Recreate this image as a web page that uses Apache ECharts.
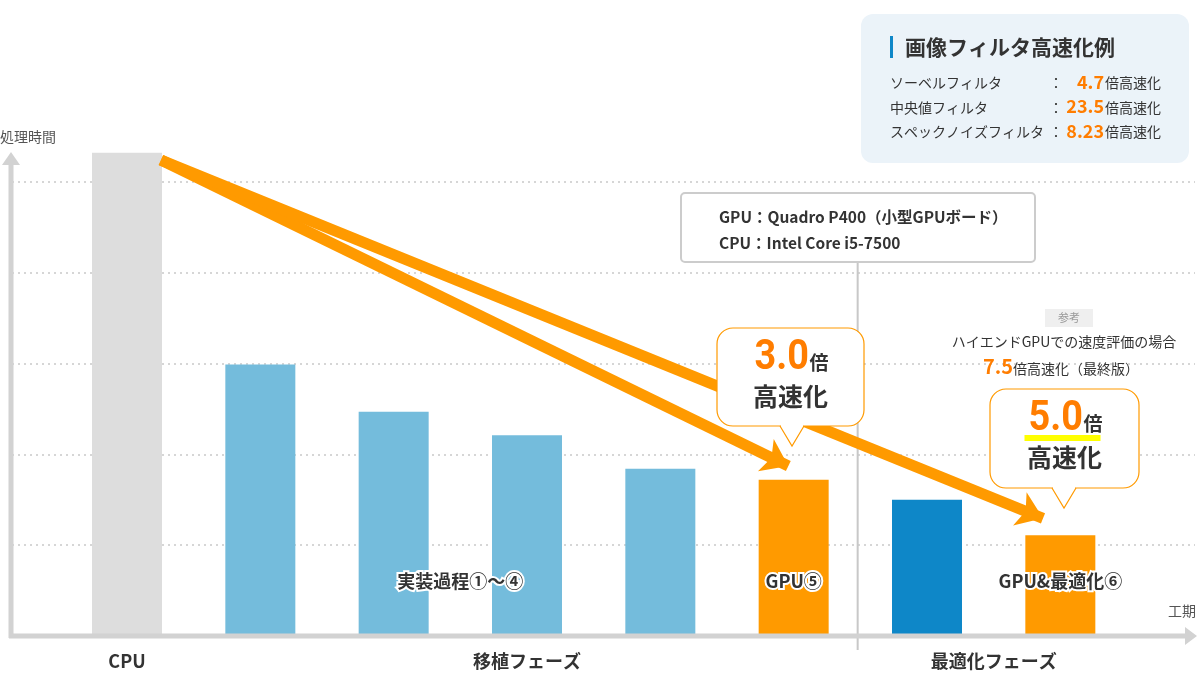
<!DOCTYPE html>
<html>
<head>
<meta charset="utf-8">
<script src="https://cdn.jsdelivr.net/npm/echarts@6/dist/echarts.min.js"></script>
<style>
  html, body { margin: 0; padding: 0; background: #fff; }
  #chart { width: 1200px; height: 694px; }
</style>
</head>
<body>
<div id="chart"></div>
<script>
// data
const categories = ['CPU', '実装過程①', '実装過程②', '実装過程③', '実装過程④', 'GPU⑤', '最適化', 'GPU&最適化⑥']
const times = [5.32, 2.99, 2.47, 2.21, 1.84, 1.72, 1.50, 1.11]
const phases = ['CPU', '移植フェーズ', '最適化フェーズ']
const filterNames = ['ソーベルフィルタ', '中央値フィルタ', 'スペックノイズフィルタ']
const filterSpeedups = ['4.7', '23.5', '8.23']
const gpuSpeedup = '3.0'
const optSpeedup = '5.0'
const highEndSpeedup = '7.5'
const specLines = ['GPU：Quadro P400（小型GPUボード）', 'CPU：Intel Core i5-7500']

// styles
const FONT = '"Noto Sans CJK JP", "Noto Sans", sans-serif'
const ORANGE = '#ff9a00'
const NUM_ORANGE = '#ff7d00'
const barColors = ['#dddddd', '#74bcdc', '#74bcdc', '#74bcdc', '#74bcdc', ORANGE, '#0e87c8', ORANGE]
const AXIS_GRAY = '#d2d2d2'

const chart = echarts.init(document.getElementById('chart'))

chart.setOption({
  animation: false,
  grid: { left: 12, right: 5, top: 91, bottom: 58 },
  xAxis: {
    type: 'value',
    min: -0.8625,
    max: 8.01,
    show: false
  },
  yAxis: {
    type: 'value',
    min: 0,
    max: 6,
    interval: 1,
    axisLine: { show: false },
    axisTick: { show: false },
    axisLabel: { show: false },
    splitLine: { showMinLine: false, showMaxLine: false, lineStyle: { color: '#d6d6d6', width: 2, type: [2, 4] } }
  },
  series: [
    {
      type: 'bar',
      barWidth: 70,
      data: times.map((v, i) => ({ value: [i, v], itemStyle: { color: barColors[i] } })),
      markLine: {
        silent: true,
        symbol: ['none', 'arrow'],
        symbolSize: [27, 25],
        label: { show: false },
        lineStyle: { color: ORANGE, width: 11, type: 'solid' },
        emphasis: { disabled: true },
        data: [
          [{ coord: [0.255, 5.24] }, { coord: [4.96, 1.871] }],
          [{ coord: [0.255, 5.24] }, { coord: [6.87, 1.296] }]
        ]
      }
    }
  ]
})

const px = (x, y) => chart.convertToPixel({ gridIndex: 0 }, [x, y])

const base = px(0, 0)[1]
const g = []

// axes with arrows
g.push({ type: 'line', z: 5, shape: { x1: 11, y1: 160, x2: 11, y2: base + 2 }, style: { stroke: AXIS_GRAY, lineWidth: 5 } })
g.push({ type: 'polygon', z: 5, shape: { points: [[11, 152], [20, 165], [2, 165]] }, style: { fill: AXIS_GRAY } })
g.push({ type: 'line', z: 5, shape: { x1: 9, y1: base, x2: 1188, y2: base }, style: { stroke: AXIS_GRAY, lineWidth: 5 } })
g.push({ type: 'polygon', z: 5, shape: { points: [[1197, base], [1185, base - 9], [1185, base + 9]] }, style: { fill: AXIS_GRAY } })
g.push({ type: 'text', z: 5, x: 0, y: 137, style: { text: '処理時間', font: '14px ' + FONT, fill: '#555', verticalAlign: 'middle' } })
g.push({ type: 'text', z: 5, x: 1196, y: 611, style: { text: '工期', font: '14px ' + FONT, fill: '#555', align: 'right', verticalAlign: 'middle' } })

// phase separator
const sepX = px(5.48, 0)[0]
g.push({ type: 'line', z: 4, shape: { x1: sepX, y1: 262, x2: sepX, y2: 650 }, style: { stroke: '#c8c8c8', lineWidth: 2 } })

// phase labels
const phaseIdx = [0, 3, 6.5]
phases.forEach((p, i) => {
  g.push({ type: 'text', z: 5, x: px(phaseIdx[i], 0)[0], y: 661,
    style: { text: p, font: 'bold 18px ' + FONT, fill: '#333', align: 'center', verticalAlign: 'middle' } })
})

// bar group labels
const groupLabels = [['実装過程①〜④', 2.5], ['GPU⑤', 5], ['GPU&最適化⑥', 7]]
groupLabels.forEach(([t, i]) => {
  const p = px(i, 0.6)
  g.push({ type: 'text', z: 6, x: p[0], y: p[1],
    style: { text: t, font: 'bold 18px ' + FONT, fill: '#333', stroke: '#fff', lineWidth: 4, align: 'center', verticalAlign: 'middle' } })
})

// speedup bubbles
function bubble(x, y, w, h, tx, ty, num, mark) {
  const yb = y + h
  g.push({ type: 'rect', z: 20, shape: { x, y, width: w, height: h, r: 16 },
    style: { fill: '#fff', stroke: ORANGE, lineWidth: 1.2 } })
  g.push({ type: 'polygon', z: 21, shape: { points: [[tx - 11, yb - 1], [tx + 11, yb - 1], [tx + 11, yb + 1], [tx, ty - 1], [tx - 11, yb + 1]] },
    style: { fill: '#fff' } })
  g.push({ type: 'polyline', z: 21, shape: { points: [[tx - 12, yb], [tx, ty], [tx + 12, yb]] },
    style: { stroke: ORANGE, lineWidth: 1.2, fill: null } })
  const cx = x + w / 2
  if (mark) {
    g.push({ type: 'rect', z: 21, shape: { x: cx - 40, y: y + 46, width: 76, height: 6 }, style: { fill: '#ffff00' } })
  }
  g.push({ type: 'text', z: 22, x: cx - 36, y: y + 30, scaleX: 0.9,
    style: { text: num, font: 'bold 42px Roboto, ' + FONT, fill: NUM_ORANGE, verticalAlign: 'middle' } })
  g.push({ type: 'text', z: 22, x: cx + 19, y: y + 35,
    style: { text: '倍', font: 'bold 19px ' + FONT, fill: '#333', verticalAlign: 'middle' } })
  g.push({ type: 'text', z: 22, x: cx, y: y + 68,
    style: { text: '高速化', font: 'bold 25px ' + FONT, fill: '#333', align: 'center', verticalAlign: 'middle' } })
}
bubble(717, 328, 147, 98, 792, 446, gpuSpeedup, false)
bubble(990, 389, 149, 99, 1064, 508, optSpeedup, true)

// spec box
g.push({ type: 'rect', z: 20, shape: { x: 681, y: 193, width: 354, height: 69, r: 4 },
  style: { fill: '#fff', stroke: '#cccccc', lineWidth: 2 } })
specLines.forEach((t, i) => {
  g.push({ type: 'text', z: 21, x: 719, y: 217 + i * 26,
    style: { text: t, font: 'bold 15.5px ' + FONT, fill: '#333', verticalAlign: 'middle' } })
})

// high-end reference
g.push({ type: 'rect', z: 20, shape: { x: 1045, y: 309, width: 48, height: 18 }, style: { fill: '#efefef' } })
g.push({ type: 'text', z: 21, x: 1069, y: 318, style: { text: '参考', font: '11px ' + FONT, fill: '#999', align: 'center', verticalAlign: 'middle' } })
g.push({ type: 'text', z: 21, x: 1064, y: 342, style: { text: 'ハイエンドGPUでの速度評価の場合', font: '14px ' + FONT, fill: '#333', align: 'center', verticalAlign: 'middle' } })
g.push({ type: 'text', z: 21, x: 1061, y: 366, style: {
  text: '{n|' + highEndSpeedup + '}{t|倍高速化（最終版）}', align: 'center', verticalAlign: 'middle',
  rich: {
    n: { font: 'bold 20px ' + FONT, fill: NUM_ORANGE, verticalAlign: 'bottom' },
    t: { font: '14px ' + FONT, fill: '#333', verticalAlign: 'bottom' }
  } } })

// filter example box
g.push({ type: 'rect', z: 20, shape: { x: 861, y: 14, width: 328, height: 149, r: 12 }, style: { fill: '#ebf3f9' } })
g.push({ type: 'rect', z: 21, shape: { x: 890, y: 36, width: 3, height: 22 }, style: { fill: '#0e87c8' } })
g.push({ type: 'text', z: 21, x: 905, y: 47, style: { text: '画像フィルタ高速化例', font: 'bold 21px ' + FONT, fill: '#333', verticalAlign: 'middle' } })
filterNames.forEach((n, i) => {
  const y = 83 + i * 24.5
  g.push({ type: 'text', z: 21, x: 890, y, style: { text: n, font: '14px ' + FONT, fill: '#333', verticalAlign: 'middle' } })
  g.push({ type: 'text', z: 21, x: 1056, y, style: { text: '：', font: '14px ' + FONT, fill: '#333', align: 'center', verticalAlign: 'middle' } })
  g.push({ type: 'text', z: 21, x: 1104, y: y - 1, style: { text: filterSpeedups[i], font: 'bold 18px ' + FONT, fill: NUM_ORANGE, align: 'right', verticalAlign: 'middle' } })
  g.push({ type: 'text', z: 21, x: 1105, y, style: { text: '倍高速化', font: '14px ' + FONT, fill: '#333', verticalAlign: 'middle' } })
})

chart.setOption({ graphic: g })
</script>
</body>
</html>
